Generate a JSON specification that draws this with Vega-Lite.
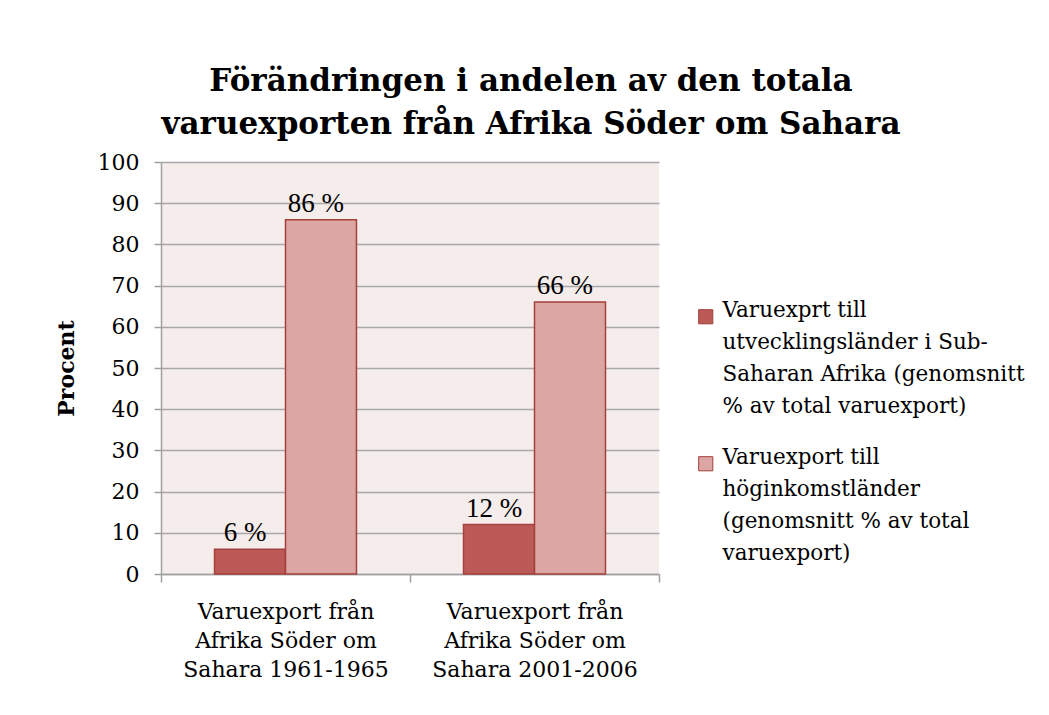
{
  "$schema": "https://vega.github.io/schema/vega-lite/v6.json",
  "width": 498,
  "height": 412,
  "padding": {"left": 55, "top": 66, "right": 10, "bottom": 10},
  "background": "white",
  "title": {
    "text": ["Förändringen i andelen av den totala", "varuexporten från Afrika Söder om Sahara"],
    "font": "DejaVu Serif",
    "fontSize": 31,
    "fontWeight": "bold",
    "color": "#000000",
    "anchor": "middle",
    "frame": "bounds",
    "lineHeight": 43,
    "offset": 10,
    "dx": -9
  },
  "config": {
    "view": {"fill": "#f5ecec", "stroke": null},
    "font": "DejaVu Serif",
    "style": {"guide-label": {"lineHeight": 32}}
  },
  "data": {
    "values": [
      {"period": "Varuexport från|Afrika Söder om|Sahara 1961-1965", "series": "Varuexprt till|utvecklingsländer i Sub-|Saharan Afrika (genomsnitt|% av total varuexport)", "value": 6, "label": "6 %"},
      {"period": "Varuexport från|Afrika Söder om|Sahara 1961-1965", "series": "Varuexport till|höginkomstländer|(genomsnitt % av total|varuexport)", "value": 86, "label": "86 %"},
      {"period": "Varuexport från|Afrika Söder om|Sahara 2001-2006", "series": "Varuexprt till|utvecklingsländer i Sub-|Saharan Afrika (genomsnitt|% av total varuexport)", "value": 12, "label": "12 %"},
      {"period": "Varuexport från|Afrika Söder om|Sahara 2001-2006", "series": "Varuexport till|höginkomstländer|(genomsnitt % av total|varuexport)", "value": 66, "label": "66 %"}
    ]
  },
  "encoding": {
    "x": {
      "field": "period",
      "type": "nominal",
      "sort": null,
      "scale": {"paddingInner": 0, "paddingOuter": 0},
      "axis": {
        "title": null,
        "labelAngle": 0,
        "labelExpr": "split(datum.label, '|')",
        "labelFont": "DejaVu Serif",
        "labelFontSize": 22,
        "labelLineHeight": 29,
        "labelColor": "#000000",
        "labelPadding": 19,
        "labelLimit": 400,
        "tickBand": "extent",
        "tickSize": 8,
        "tickColor": "#a0a0a0",
        "tickWidth": 1.5,
        "domainColor": "#a0a0a0",
        "domainWidth": 1.5,
        "grid": false
      }
    },
    "xOffset": {
      "field": "series",
      "type": "nominal",
      "sort": null,
      "scale": {"paddingOuter": 0.754, "paddingInner": 0}
    },
    "y": {
      "field": "value",
      "type": "quantitative",
      "scale": {"domain": [0, 100], "nice": false},
      "axis": {
        "title": "Procent",
        "titleFont": "DejaVu Serif",
        "titleFontSize": 22,
        "titleFontWeight": "bold",
        "titleColor": "#000000",
        "titlePadding": 19,
        "values": [0, 10, 20, 30, 40, 50, 60, 70, 80, 90, 100],
        "labelFont": "DejaVu Serif",
        "labelFontSize": 22,
        "labelColor": "#000000",
        "labelPadding": 15,
        "tickSize": 7,
        "tickColor": "#a0a0a0",
        "tickWidth": 1.5,
        "domainColor": "#a0a0a0",
        "domainWidth": 1.5,
        "gridColor": "#a8a8a8",
        "gridWidth": 1.5
      }
    }
  },
  "layer": [
    {
      "mark": {"type": "bar", "stroke": "#a5403d", "strokeWidth": 1.5},
      "encoding": {
        "color": {
          "field": "series",
          "type": "nominal",
          "sort": null,
          "scale": {
            "domain": ["Varuexprt till|utvecklingsländer i Sub-|Saharan Afrika (genomsnitt|% av total varuexport)", "Varuexport till|höginkomstländer|(genomsnitt % av total|varuexport)"],
            "range": ["#bb5a56", "#dba6a4"]
          },
          "legend": {
            "title": null,
            "labelExpr": "split(datum.label, '|')",
            "labelFont": "DejaVu Serif",
            "labelFontSize": 21.5,
            "labelColor": "#000000",
            "labelLimit": 400,
            "labelBaseline": "alphabetic",
            "labelOffset": 6,
            "symbolType": "square",
            "symbolSize": 200,
            "symbolStrokeColor": "#a5403d",
            "symbolStrokeWidth": 1,
            "rowPadding": 28,
            "orient": "none",
            "legendX": 534,
            "legendY": 144
          }
        }
      }
    },
    {
      "mark": {"type": "text", "baseline": "alphabetic", "dy": -8, "dx": -5, "font": "Liberation Serif", "fontSize": 27, "color": "#000000"},
      "encoding": {
        "text": {"field": "label"}
      }
    }
  ]
}
